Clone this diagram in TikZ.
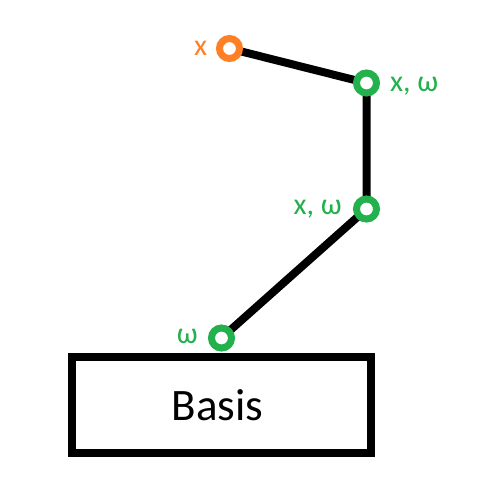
\documentclass[tikz,border=0pt]{standalone}
\usepackage{fontspec}
\setmainfont{Carlito}
\definecolor{paintorange}{HTML}{FF7F27}
\definecolor{paintgreen}{HTML}{22B14C}
\begin{document}
\begin{tikzpicture}[x=1pt,y=-1pt,
  ring/.style={circle,draw=#1,fill=white,line width=7pt,minimum size=20pt,inner sep=0pt},
  arm/.style={line width=8pt,black},
  lbl/.style={text=#1,font=\fontsize{30}{33}\selectfont,inner sep=0pt},
  basebox/.style={draw=black,line width=8pt,minimum width=299pt,minimum height=96pt,inner sep=0pt}]
\useasboundingbox[fill=white] (0,0) rectangle (480,480);
\node[basebox] (base) at (221.5,405) {};
\node[font=\fontsize{45}{48}\selectfont,anchor=base,inner sep=0pt] (basetxt) at (217.5,420) {Basis};
\coordinate (c0) at (229.5,48.5);
\coordinate (c1) at (366.5,83);
\coordinate (c2) at (366.5,209);
\coordinate (c3) at (221.5,338);
\draw[arm] (c0) -- (c1) -- (c2) -- (c3);
\node[ring=paintorange] (j0) at (c0) {};
\node[ring=paintgreen] (j1) at (c1) {};
\node[ring=paintgreen] (j2) at (c2) {};
\node[ring=paintgreen] (j3) at (c3) {};
\node[lbl=paintorange,anchor=base west] (l0) at (194,55) {x};
\node[lbl=paintgreen,anchor=base west] (l1) at (390,91) {x, ω};
\node[lbl=paintgreen,anchor=base east] (l2) at (342,214) {x, ω};
\node[lbl=paintgreen,anchor=base east] (l3) at (198,343) {ω};
\end{tikzpicture}
\end{document}
